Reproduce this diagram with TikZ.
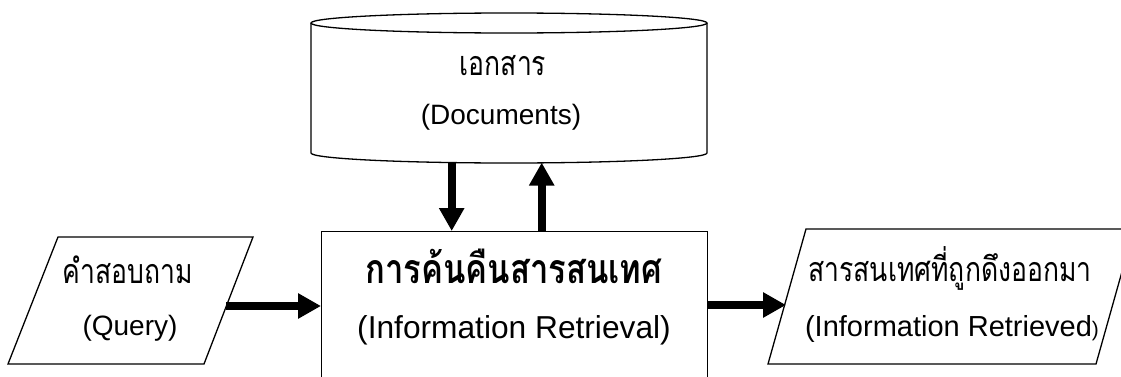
\documentclass[tikz,border=0pt]{standalone}
\usepackage{fontspec}
\setmainfont{Liberation Sans}
\newfontfamily\thai[Script=Thai, FakeStretch=0.78]{Loma}
\newfontfamily\thaibold[Script=Thai, FakeStretch=0.8]{Loma}
\usetikzlibrary{arrows.meta}

\tikzset{
  outline/.style={draw=black, line width=1.3pt},
  fat/.style={line width=8pt, -{Triangle[width=24pt,length=23pt]}},
  lbl/.style={inner sep=0pt, font=\fontsize{28}{32}\selectfont},
  thlbl/.style={inner sep=0pt, anchor=base, font=\thai\fontsize{34}{40}\selectfont},
}

\begin{document}
\begin{tikzpicture}[x=1pt, y=1pt]
\useasboundingbox (0,0) rectangle (1121,376);
\clip (0,0) rectangle (1121,376);

% document store (cylinder)
\node[minimum width=396pt, minimum height=140pt, inner sep=0pt, anchor=south west]
  (docs) at (311,213.4) {};
\draw[outline, fill=white] (311,353) -- (311,223)
  arc[start angle=180, end angle=360, x radius=198, y radius=10] -- (707,353);
\draw[outline] (509,353) ellipse [x radius=198, y radius=10];
\node[thlbl] (docsTh) at (503,301) {เอกสาร};
\node[lbl] (docsEn) at (501,259) {(Documents)};

% retrieval process box (runs past the lower edge)
\node[outline, minimum width=386pt, minimum height=170pt, inner sep=0pt, anchor=north west]
  (ir) at (321,145) {};
\node[inner sep=0pt, anchor=base, font=\thaibold\bfseries\fontsize{41}{46}\selectfont]
  (irTh) at (514,93) {การค้นคืนสารสนเทศ};
\node[inner sep=0pt, font=\fontsize{31.7}{36}\selectfont] (irEn) at (514,46) {(Information Retrieval)};

% query (input parallelogram)
\draw[outline] (8,12) -- (204,12) -- (253,139) -- (58,139) -- cycle;
\coordinate (qOut) at (226.4,70);
\node[thlbl] (qTh) at (128,93) {คำสอบถาม};
\node[lbl] (qEn) at (130,48) {(Query)};

% retrieved information (output parallelogram)
\draw[outline] (768,12) -- (1096,12) -- (1134,147) -- (806,147) -- cycle;
\coordinate (rIn) at (786,71);
\node[thlbl] (rTh) at (950,95) {สารสนเทศที่ถูกดึงออกมา};
\node[lbl, font=\fontsize{29}{33}\selectfont] (rEn) at (952,47)
  {(Information Retrieved{\fontsize{21}{24}\selectfont)}};

% flows
\draw[fat] (qOut) -- (qOut -| ir.west);
\draw[fat] (ir.east |- rIn) -- (rIn);
\draw[fat] ([xshift=-57.5pt]docs.south) -- ([xshift=-57.5pt]docs.south |- ir.north);
\draw[fat] ([xshift=32.5pt]docs.south |- ir.north) -- ([xshift=32.5pt]docs.south);
\end{tikzpicture}
\end{document}
